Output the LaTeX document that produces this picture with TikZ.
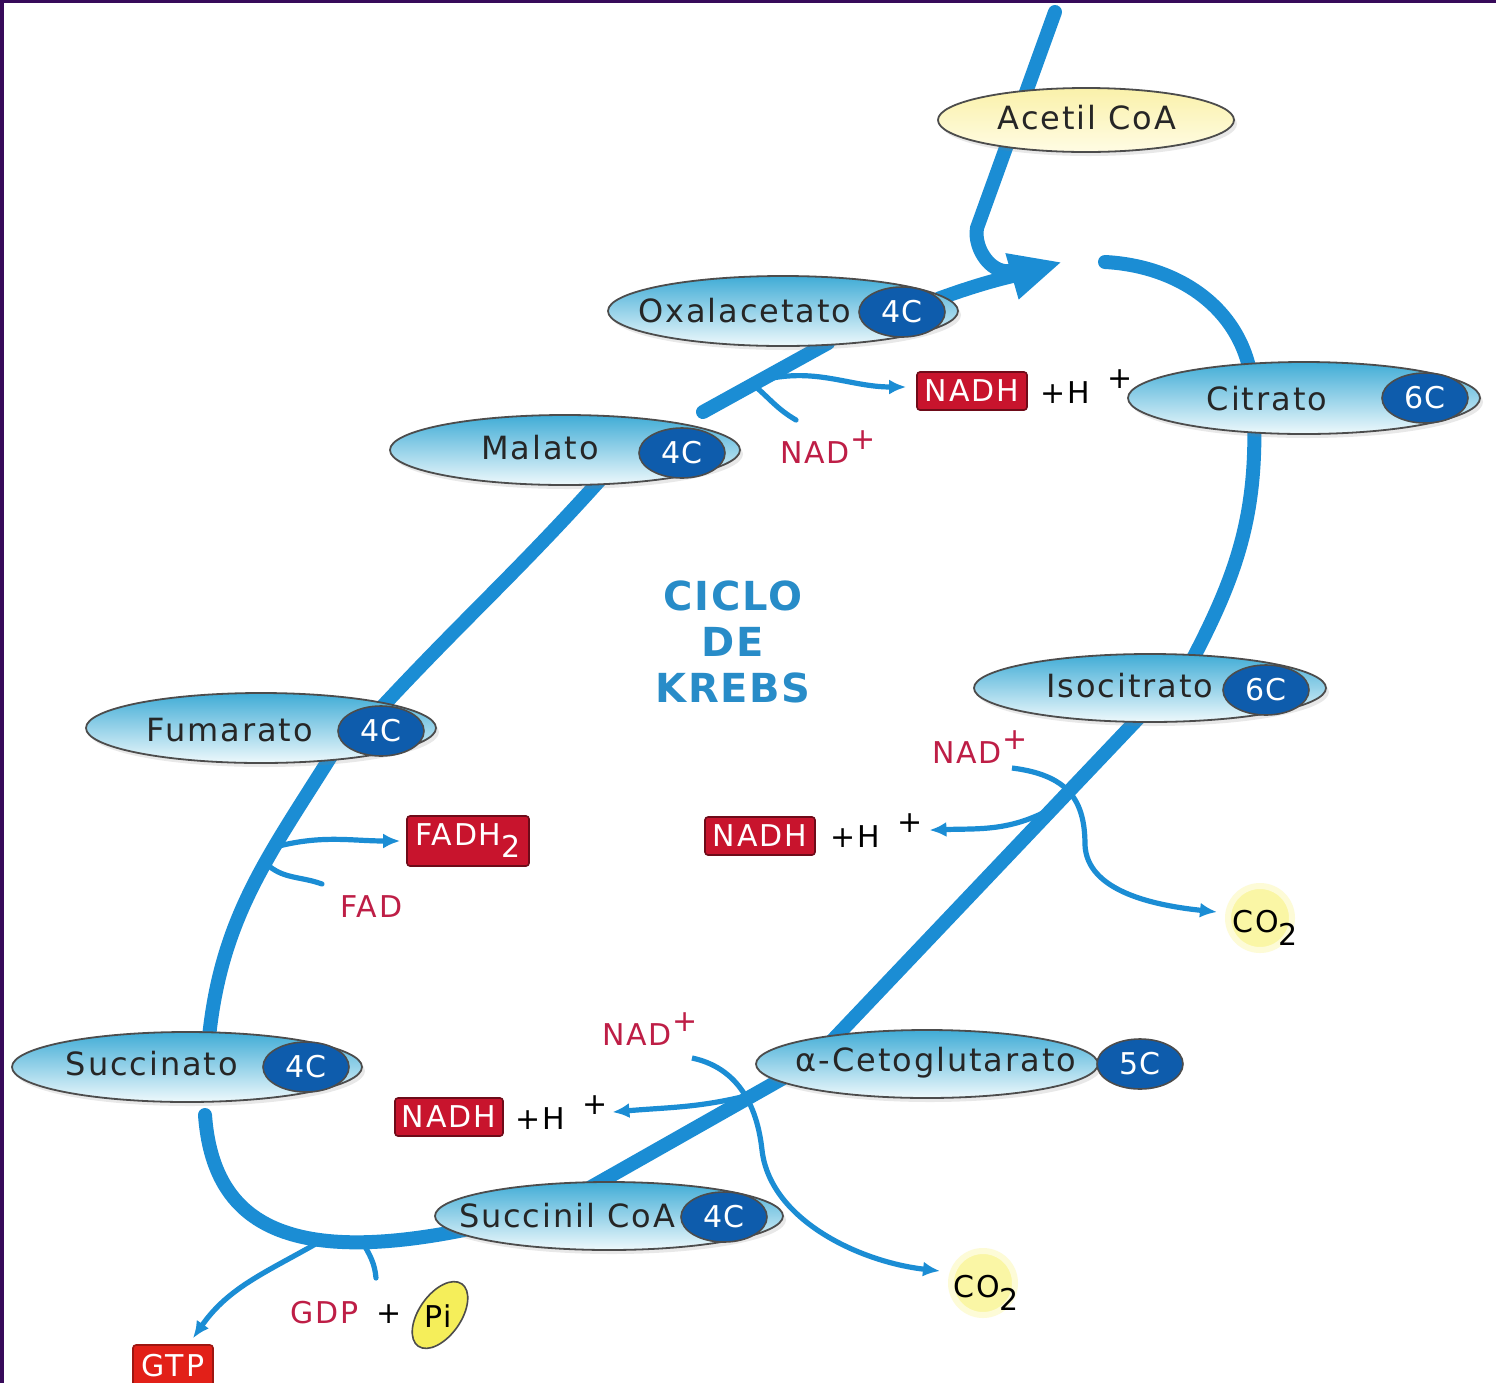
\documentclass[tikz,border=0pt]{standalone}
\usepackage{fontspec}
\setmainfont{DejaVu Sans}
\newfontfamily\lblfont[LetterSpace=6.0]{DejaVu Sans}
\newfontfamily\ttlfont[LetterSpace=4.0]{DejaVu Sans}
\usetikzlibrary{shapes.geometric,arrows.meta,shadows,calc}
\pgfdeclarelayer{bg}
\pgfsetlayers{bg,main}
\definecolor{kblue}{RGB}{27,141,212}
\definecolor{kbadge}{RGB}{14,92,172}
\definecolor{kred}{RGB}{200,20,45}
\definecolor{kgtp}{RGB}{226,32,24}
\definecolor{ktxt}{RGB}{190,30,70}
\definecolor{ktitle}{RGB}{40,140,200}
\definecolor{kpurple}{RGB}{55,10,90}
\definecolor{ktop}{RGB}{64,172,214}
\definecolor{kbot}{RGB}{238,249,252}
\definecolor{kyel}{RGB}{250,241,170}
\definecolor{kyel2}{RGB}{255,252,228}
\definecolor{kpi}{RGB}{245,238,90}
\definecolor{kglow}{RGB}{250,246,165}
\tikzset{
 mol/.style={ellipse, draw=black!70, line width=0.9pt, top color=ktop, bottom color=kbot, inner sep=0pt,
   drop shadow={opacity=0.18, shadow xshift=1.5pt, shadow yshift=-2pt}},
 moly/.style={mol, top color=kyel, bottom color=kyel2},
 bdg/.style={ellipse, draw=black!70, line width=0.8pt, fill=kbadge, text=white, inner sep=0pt,
   minimum width=43pt, minimum height=25pt, font=\lblfont\fontsize{15}{17}\selectfont},
 lbl/.style={inner sep=0pt, text=black!85, font=\lblfont\fontsize{16}{18}\selectfont},
 rtxt/.style={inner sep=0pt, text=ktxt, font=\lblfont\fontsize{15}{17}\selectfont},
 btxt/.style={inner sep=0pt, text=black, font=\lblfont\fontsize{15}{17}\selectfont},
 rbox/.style={rectangle, rounded corners=1.5pt, fill=kred, draw=kred!55!black, line width=0.8pt,
   text=white, inner sep=0pt, minimum height=19pt, font=\lblfont\fontsize{15}{17}\selectfont},
 glow/.style={circle, inner sep=0pt, minimum size=32pt, fill=kglow, draw=kglow!45!white, line width=3pt},
 ttl/.style={inner sep=0pt, text=ktitle, align=center, font=\ttlfont\bfseries\fontsize{20}{23}\selectfont},
 mline/.style={draw=kblue, line width=7pt, line cap=round},
 side/.style={draw=kblue, line width=2.6pt, -{Latex[length=8.5pt,width=7.5pt]}},
 feed/.style={draw=kblue, line width=2.6pt, line cap=round}
}
\begin{document}
\begin{tikzpicture}[x=0.5pt,y=-0.5pt]
\useasboundingbox (0,0) rectangle (1496,1383);

% ---------- molecules ----------
\node[moly, minimum width=148pt, minimum height=32pt] (acetil) at (1086,120) {};
\node[lbl] (acetilT) at (1087,118) {Acetil CoA};

\node[mol, minimum width=175pt, minimum height=35pt] (oxal) at (783,311) {};
\node[bdg] (oxalC) at (902,312) {4C};
\node[lbl] (oxalT) at (745,311) {Oxalacetato};

\node[mol, minimum width=175pt, minimum height=35pt] (malato) at (565,450) {};
\node[bdg] (malatoC) at (682,453) {4C};
\node[lbl] (malatoT) at (540,448) {Malato};

\node[mol, minimum width=176pt, minimum height=36pt] (citrato) at (1304,398) {};
\node[bdg] (citratoC) at (1425,398) {6C};
\node[lbl] (citratoT) at (1267,399) {Citrato};

\node[mol, minimum width=176pt, minimum height=34pt] (isoc) at (1150,688) {};
\node[bdg] (isocC) at (1266,690) {6C};
\node[lbl] (isocT) at (1130,686) {Isocitrato};

\node[mol, minimum width=171pt, minimum height=34pt] (aceto) at (927,1064) {};
\node[bdg] (acetoC) at (1140,1064) {5C};
\node[lbl] (acetoT) at (936,1063) {α-Cetoglutarato};

\node[mol, minimum width=174pt, minimum height=34pt] (succoa) at (609,1216) {};
\node[bdg] (succoaC) at (724,1217) {4C};
\node[lbl] (succoaT) at (567,1216) {Succinil CoA};

\node[mol, minimum width=175pt, minimum height=35pt] (succ) at (187,1067) {};
\node[bdg] (succC) at (306,1067) {4C};
\node[lbl] (succT) at (152,1064) {Succinato};

\node[mol, minimum width=175pt, minimum height=35pt] (fum) at (261,728) {};
\node[bdg] (fumC) at (381,731) {4C};
\node[lbl] (fumT) at (230,730) {Fumarato};

% ---------- title ----------
\node[ttl] (title) at (733,642) {CICLO\\DE\\KREBS};

% ---------- products / cofactors ----------
\node[rbox, minimum width=55pt] (nadh1) at (972,391) {NADH};
\node[btxt, anchor=base west] (h1) at (1040,403) {+H\hspace{9pt}\raisebox{.5em}{+}};
\node[rtxt, anchor=base west] (nad1) at (780,463) {NAD\raisebox{.45em}{+}};

\node[rtxt, anchor=base west] (nad2) at (932,763) {NAD\raisebox{.45em}{+}};
\node[rbox, minimum width=55pt] (nadh2) at (760,836) {NADH};
\node[btxt, anchor=base west] (h2) at (830,847) {+H\hspace{9pt}\raisebox{.5em}{+}};
\node[glow] (co2aG) at (1260,918) {};
\node[btxt, anchor=base west] (co2a) at (1232,932) {CO\raisebox{-.45em}{2}};

\node[rtxt, anchor=base west] (nad3) at (602,1045) {NAD\raisebox{.45em}{+}};
\node[rbox, minimum width=54pt] (nadh3) at (449,1117) {NADH};
\node[btxt, anchor=base west] (h3) at (515,1129) {+H\hspace{9pt}\raisebox{.5em}{+}};
\node[glow] (co2bG) at (983,1283) {};
\node[btxt, anchor=base west] (co2b) at (953,1297) {CO\raisebox{-.45em}{2}};

\node[rbox, minimum width=61pt, minimum height=25pt] (fadh) at (468,841) {FADH\raisebox{-.4em}{2}};
\node[rtxt, anchor=base west] (fad) at (340,917) {FAD};

\node[rtxt, anchor=base west] (gdp) at (290,1323) {GDP};
\node[btxt, anchor=base west] (plusG) at (376,1323) {+};
\node[ellipse, draw=black!70, line width=0.8pt, fill=kpi, rotate=55, minimum width=38pt,
      minimum height=21pt, inner sep=0pt] (pi) at (440,1315) {};
\node[btxt] (piT) at (438,1316) {Pi};
\node[rbox, fill=kgtp, draw=kgtp!70!black, minimum width=40pt, minimum height=21pt] (gtp) at (173,1366) {GTP};

% ---------- free ends of side connectors ----------
\coordinate (nadf1) at (796,420);
\coordinate (nadf2) at (1012,768);
\coordinate (nadf3) at (692,1058);
\coordinate (fadf) at (322,884);
\coordinate (gdpf) at (376,1278);
\coordinate (acTop) at (1055,12);

\begin{pgfonlayer}{bg}
\fill[white] (0,0) rectangle (1496,1383);
\fill[kpurple] (0,0) rectangle (1496,3);
\fill[kpurple] (0,0) rectangle (4,1383);

% main cycle
\draw[mline] (acTop) -- ($(acetil)+(-109,108)$) to[out=-100,in=200] ($(oxalC)+(112,-42)$);
\draw[mline, -{Triangle[length=26pt,width=22pt]}] (oxalC) to[out=20,in=196] ($(oxalC)+(160,-50)$);
\draw[mline] ($(citrato)+(-199,-136)$) to[out=-3,in=97] ($(citrato)+(-52,-15)$);
\draw[mline] ($(citrato)+(-50,15)$) to[out=-88,in=62] ($(isoc)+(38,-20)$);
\draw[mline] ($(isoc)+(1,17)$) -- coordinate[pos=.28] (bp2) coordinate[pos=.3] (bp2b) ($(aceto)+(-99,-19)$);
\draw[mline] ($(aceto)+(-140,12)$) -- coordinate[pos=.15] (bp3) ($(succoa)+(-25,-25)$);
\draw[mline] ($(succoa)+(-145,14)$) .. controls +(-175,35) and +(8,110) .. ($(succ)+(18,48)$)
   coordinate[pos=.22] (mpg) coordinate[pos=.33] (bpg);
\draw[mline] ($(succ)+(22,-30)$) to[out=84,in=-122] coordinate[pos=.6] (mpf) coordinate[pos=.66] (bpf) ($(fum)+(72,25)$);
\draw[mline] ($(fum)+(120,-20)$) to[out=47,in=-132] ($(malato)+(35,30)$);
\draw[mline] ($(malato)+(138,-38)$) -- coordinate[pos=.4] (mp1) coordinate[pos=.45] (bp1) ($(oxal)+(45,32)$);

% side reactions
\draw[side] (bp1) to[out=15,in=180] ([xshift=-5pt,yshift=2pt]nadh1.west);
\draw[feed] (nadf1) to[out=150,in=-40] (mp1);

\draw[side] (nadf2) .. controls (1068,775) and (1085,800) .. (1085,845)
   .. controls (1087,890) and (1150,905) .. ([yshift=3pt,xshift=-4pt]co2aG.west);
\draw[side] (bp2b) to[out=-150,in=2] ([xshift=3pt]h2.east);

\draw[side] (nadf3) .. controls (730,1066) and (756,1095) .. (762,1150)
   .. controls (770,1220) and (860,1262) .. ([yshift=6pt,xshift=-4pt]co2bG.west);
\draw[side] (bp3) to[out=-165,in=5] ([xshift=2pt]h3.east);

\draw[side] (bpf) to[out=15,in=180] ([xshift=-3pt]fadh.west);
\draw[feed] (fadf) to[out=160,in=-45] (mpf);

\draw[side] (bpg) to[out=-150,in=55] ([xshift=10pt,yshift=3pt]gtp.north);
\draw[feed] (gdpf) to[out=95,in=-60] (mpg);
\end{pgfonlayer}
\end{tikzpicture}
\end{document}
